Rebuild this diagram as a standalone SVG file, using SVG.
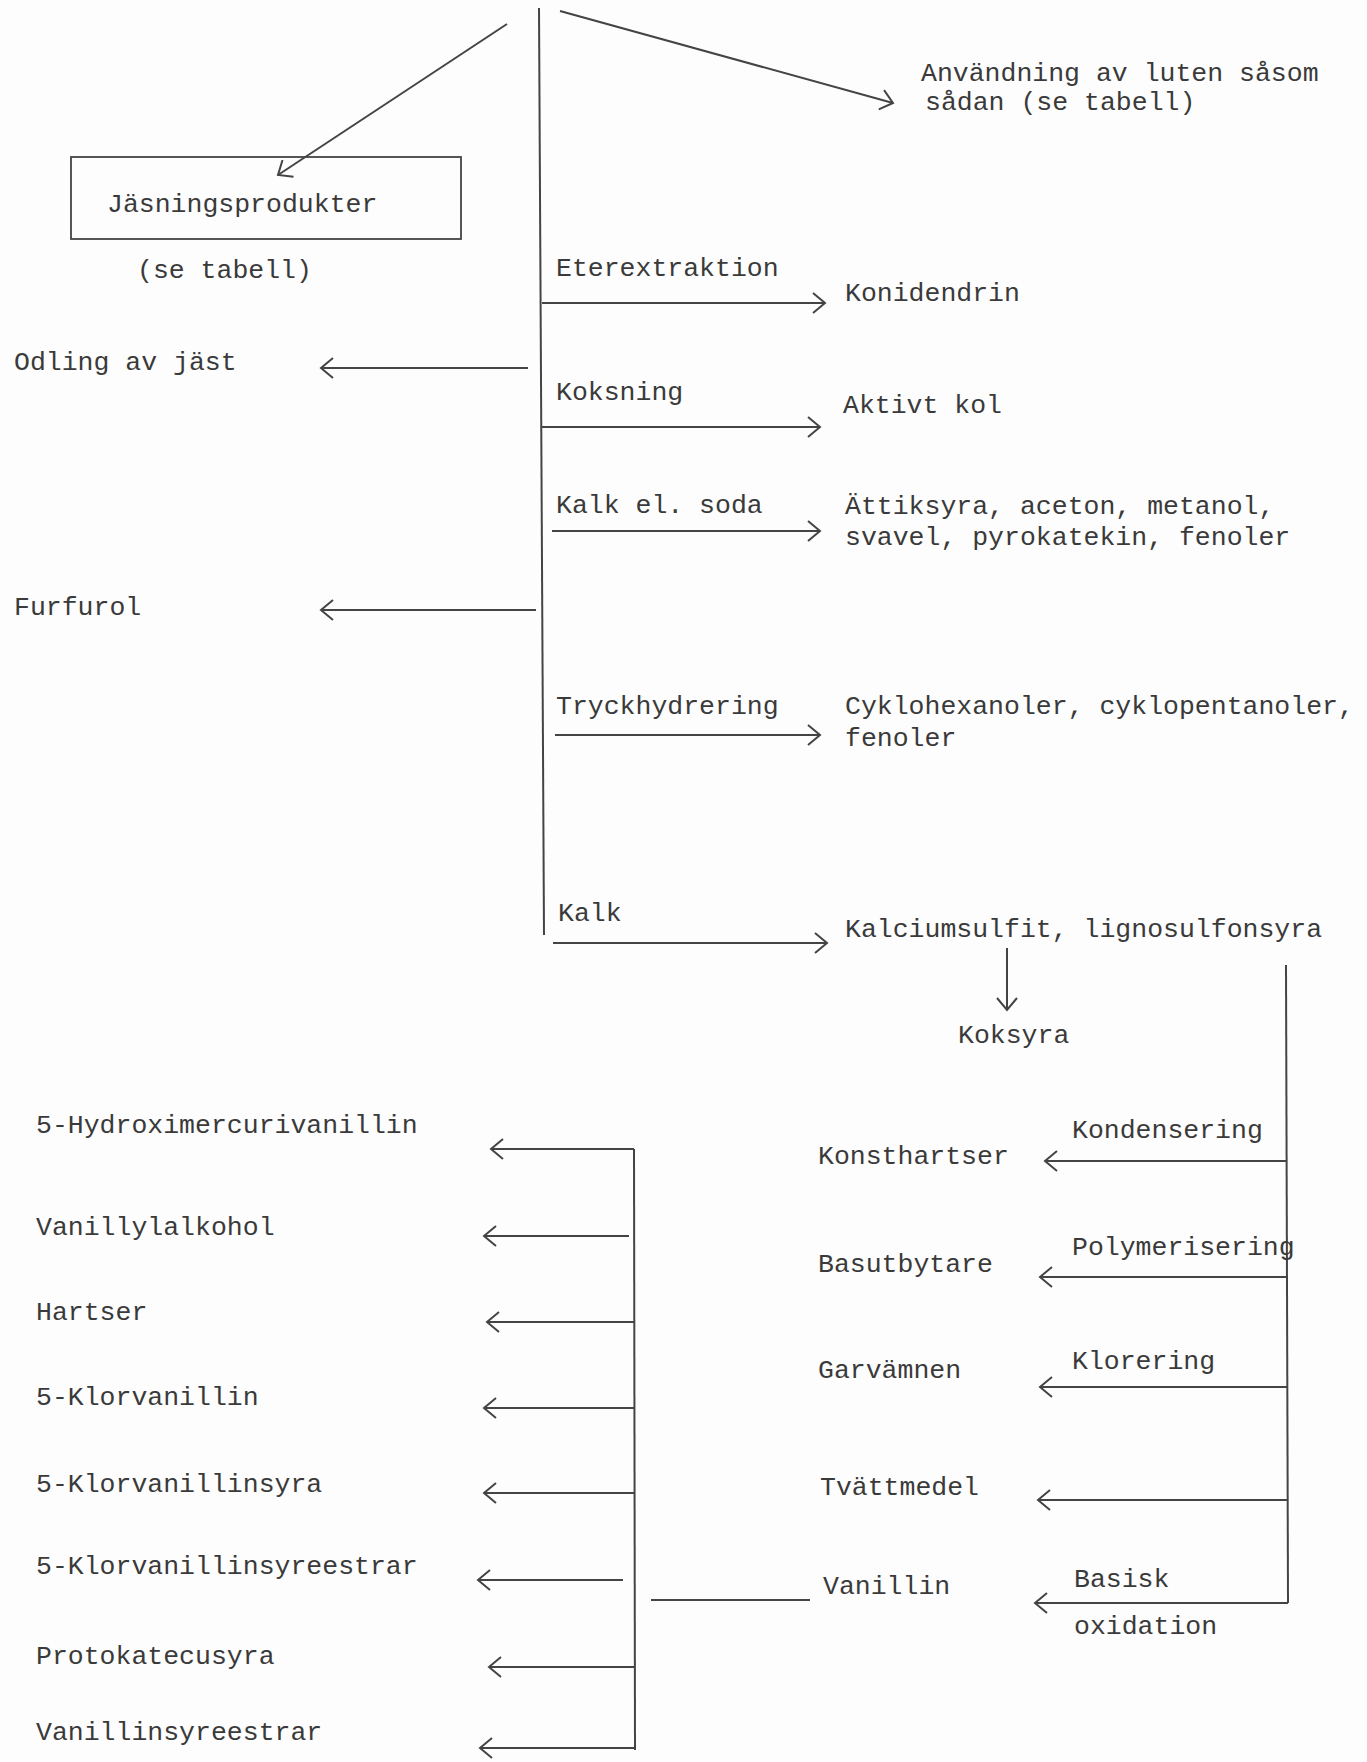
<svg xmlns="http://www.w3.org/2000/svg" width="1367" height="1762" viewBox="0 0 1367 1762">
<style>
text{font-family:"Liberation Mono","DejaVu Sans Mono",monospace;font-size:26.5px;fill:#3a3a3a}
.c line,.c path{stroke:#444;stroke-width:2;fill:none}
.box{fill:none;stroke:#444;stroke-width:1.8}
</style>
<defs>
<marker id="ah" viewBox="0 0 16 22" refX="14" refY="11" markerWidth="16" markerHeight="22" orient="auto" markerUnits="userSpaceOnUse">
<path d="M2,1 L14,11 L2,21" fill="none" stroke="#444" stroke-width="2"/>
</marker>
</defs>
<rect width="1367" height="1762" fill="#fdfdfd"/>

<g class="c" id="connectors">
<line x1="539" y1="8" x2="544" y2="935"/>
<line x1="507" y1="24" x2="278" y2="175" marker-end="url(#ah)"/>
<line x1="560" y1="11" x2="893" y2="103" marker-end="url(#ah)"/>
<line x1="528" y1="368" x2="321" y2="368" marker-end="url(#ah)"/>
<line x1="536" y1="610" x2="321" y2="610" marker-end="url(#ah)"/>
<line x1="542" y1="303" x2="825" y2="303" marker-end="url(#ah)"/>
<line x1="542" y1="427" x2="820" y2="427" marker-end="url(#ah)"/>
<line x1="552" y1="531" x2="820" y2="531" marker-end="url(#ah)"/>
<line x1="555" y1="735" x2="820" y2="735" marker-end="url(#ah)"/>
<line x1="553" y1="943" x2="827" y2="943" marker-end="url(#ah)"/>
<line x1="1007" y1="948" x2="1007" y2="1010" marker-end="url(#ah)"/>
<line x1="1286" y1="965" x2="1288" y2="1603"/>
<line x1="1287" y1="1161" x2="1045" y2="1161" marker-end="url(#ah)"/>
<line x1="1287" y1="1277" x2="1040" y2="1277" marker-end="url(#ah)"/>
<line x1="1287" y1="1387" x2="1040" y2="1387" marker-end="url(#ah)"/>
<line x1="1287" y1="1500" x2="1038" y2="1500" marker-end="url(#ah)"/>
<line x1="1288" y1="1603" x2="1035" y2="1603" marker-end="url(#ah)"/>
<line x1="810" y1="1600" x2="651" y2="1600"/>
<line x1="634" y1="1149" x2="635" y2="1750"/>
<line x1="634" y1="1149" x2="491" y2="1149" marker-end="url(#ah)"/>
<line x1="629" y1="1236" x2="484" y2="1236" marker-end="url(#ah)"/>
<line x1="634" y1="1322" x2="487" y2="1322" marker-end="url(#ah)"/>
<line x1="634" y1="1408" x2="484" y2="1408" marker-end="url(#ah)"/>
<line x1="634" y1="1493" x2="484" y2="1493" marker-end="url(#ah)"/>
<line x1="623" y1="1580" x2="478" y2="1580" marker-end="url(#ah)"/>
<line x1="634" y1="1667" x2="489" y2="1667" marker-end="url(#ah)"/>
<line x1="635" y1="1748" x2="480" y2="1748" marker-end="url(#ah)"/>
</g>

<g id="n-anvandning"><text x="921" y="81">Användning av luten såsom</text><text x="925" y="110">sådan (se tabell)</text></g>
<g id="n-jasning"><rect class="box" x="71" y="157" width="390" height="82"/><text x="107" y="212">Jäsningsprodukter</text></g>
<g id="n-setabell"><text x="137" y="278">(se tabell)</text></g>
<g id="n-odling"><text x="14" y="370">Odling av jäst</text></g>
<g id="n-furfurol"><text x="14" y="615">Furfurol</text></g>

<g id="l-eter"><text x="556" y="276">Eterextraktion</text></g>
<g id="n-konidendrin"><text x="845" y="301">Konidendrin</text></g>
<g id="l-koksning"><text x="556" y="400">Koksning</text></g>
<g id="n-aktivt"><text x="843" y="413">Aktivt kol</text></g>
<g id="l-kalksoda"><text x="556" y="513">Kalk el. soda</text></g>
<g id="n-attik"><text x="845" y="514">Ättiksyra, aceton, metanol,</text><text x="845" y="545">svavel, pyrokatekin, fenoler</text></g>
<g id="l-tryck"><text x="556" y="714">Tryckhydrering</text></g>
<g id="n-cyklo"><text x="845" y="714">Cyklohexanoler, cyklopentanoler,</text><text x="845" y="746">fenoler</text></g>
<g id="l-kalk"><text x="558" y="921">Kalk</text></g>
<g id="n-kalcium"><text x="845" y="937">Kalciumsulfit, lignosulfonsyra</text></g>
<g id="n-koksyra"><text x="958" y="1043">Koksyra</text></g>

<g id="n-konsthartser"><text x="818" y="1164">Konsthartser</text></g>
<g id="l-kondens"><text x="1072" y="1138">Kondensering</text></g>
<g id="n-basut"><text x="818" y="1272">Basutbytare</text></g>
<g id="l-polymer"><text x="1072" y="1255">Polymerisering</text></g>
<g id="n-garv"><text x="818" y="1378">Garvämnen</text></g>
<g id="l-klorering"><text x="1072" y="1369">Klorering</text></g>
<g id="n-tvatt"><text x="820" y="1495">Tvättmedel</text></g>
<g id="n-vanillin"><text x="823" y="1594">Vanillin</text></g>
<g id="l-basisk"><text x="1074" y="1587">Basisk</text><text x="1074" y="1634">oxidation</text></g>

<g id="n-hydroxi"><text x="36" y="1133">5-Hydroximercurivanillin</text></g>
<g id="n-vanillyl"><text x="36" y="1235">Vanillylalkohol</text></g>
<g id="n-hartser"><text x="36" y="1320">Hartser</text></g>
<g id="n-klorvan"><text x="36" y="1405">5-Klorvanillin</text></g>
<g id="n-klorvansyra"><text x="36" y="1492">5-Klorvanillinsyra</text></g>
<g id="n-klorvanest"><text x="36" y="1574">5-Klorvanillinsyreestrar</text></g>
<g id="n-proto"><text x="36" y="1664">Protokatecusyra</text></g>
<g id="n-vanest"><text x="36" y="1740">Vanillinsyreestrar</text></g>
</svg>
